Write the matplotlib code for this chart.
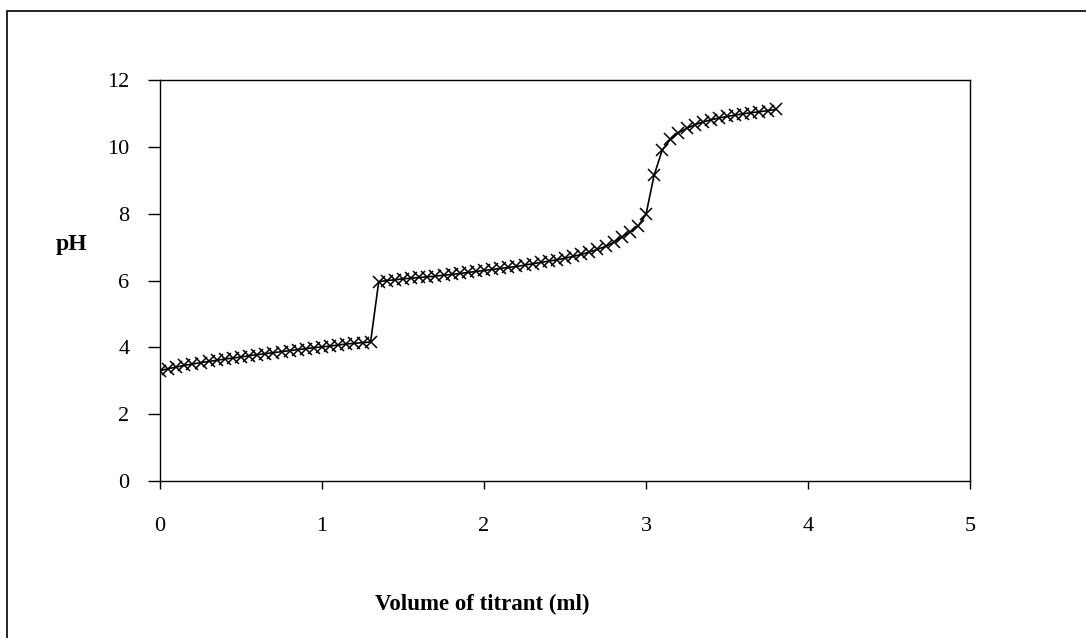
import matplotlib.pyplot as plt
from matplotlib.patches import Rectangle

volume = [0.00, 0.05, 0.10, 0.15, 0.20, 0.25, 0.30, 0.35, 0.40, 0.45,
          0.50, 0.55, 0.60, 0.65, 0.70, 0.75, 0.80, 0.85, 0.90, 0.95,
          1.00, 1.05, 1.10, 1.15, 1.20, 1.25, 1.30, 1.35, 1.40, 1.45,
          1.50, 1.55, 1.60, 1.65, 1.70, 1.75, 1.80, 1.85, 1.90, 1.95,
          2.00, 2.05, 2.10, 2.15, 2.20, 2.25, 2.30, 2.35, 2.40, 2.45,
          2.50, 2.55, 2.60, 2.65, 2.70, 2.75, 2.80, 2.85, 2.90, 2.95,
          3.00, 3.05, 3.10, 3.15, 3.20, 3.25, 3.30, 3.35, 3.40, 3.45,
          3.50, 3.55, 3.60, 3.65, 3.70, 3.75, 3.80]
ph = [3.30, 3.36, 3.41, 3.46, 3.50, 3.54, 3.58, 3.61, 3.65, 3.68,
      3.71, 3.75, 3.78, 3.81, 3.84, 3.87, 3.90, 3.93, 3.96, 3.99,
      4.01, 4.04, 4.07, 4.10, 4.12, 4.14, 4.16, 5.96, 6.00, 6.02,
      6.05, 6.07, 6.09, 6.11, 6.13, 6.16, 6.18, 6.21, 6.24, 6.27,
      6.30, 6.33, 6.36, 6.39, 6.42, 6.46, 6.50, 6.54, 6.58, 6.62,
      6.67, 6.72, 6.78, 6.85, 6.93, 7.02, 7.14, 7.30, 7.45, 7.62,
      7.98, 9.15, 9.90, 10.22, 10.42, 10.55, 10.66, 10.74, 10.81, 10.86,
      10.91, 10.95, 10.99, 11.02, 11.05, 11.08, 11.12]

x_ticks = [0, 1, 2, 3, 4, 5]
y_ticks = [0, 2, 4, 6, 8, 10, 12]

plt.rcParams['font.family'] = ['Liberation Serif', 'DejaVu Serif']

fig = plt.figure(figsize=(10.86, 6.38), dpi=100)
ax = fig.add_axes([160 / 1086, 1 - 481 / 638, 810 / 1086, 401 / 638])

ax.plot(volume, ph, color='black', linewidth=1.2, marker='x',
        markersize=8, markeredgewidth=1.1)

ax.set_xlim(0, 5)
ax.set_ylim(0, 12)
ax.set_xticks(x_ticks)
ax.set_yticks(y_ticks)
ax.tick_params(axis='y', direction='out', length=9, width=1, pad=13, labelsize=16)
ax.tick_params(axis='x', direction='out', length=6, width=1, pad=20, labelsize=16)
for s in ax.spines.values():
    s.set_linewidth(1)
    s.set_color('black')

fig.text(482 / 1086, 1 - 604 / 638, 'Volume of titrant (ml)', fontsize=16.5,
         fontweight='bold', ha='center', va='center')
fig.text(72 / 1086, 1 - 245 / 638, 'pH', fontsize=17,
         fontweight='bold', ha='center', va='center')

# outer chart border
fig.patches.append(Rectangle((7 / 1086, -0.05), 1.1, 1.05 - 11 / 638,
                             transform=fig.transFigure, fill=False,
                             edgecolor='black', linewidth=1.2))

fig.savefig('out.png', dpi=100)
